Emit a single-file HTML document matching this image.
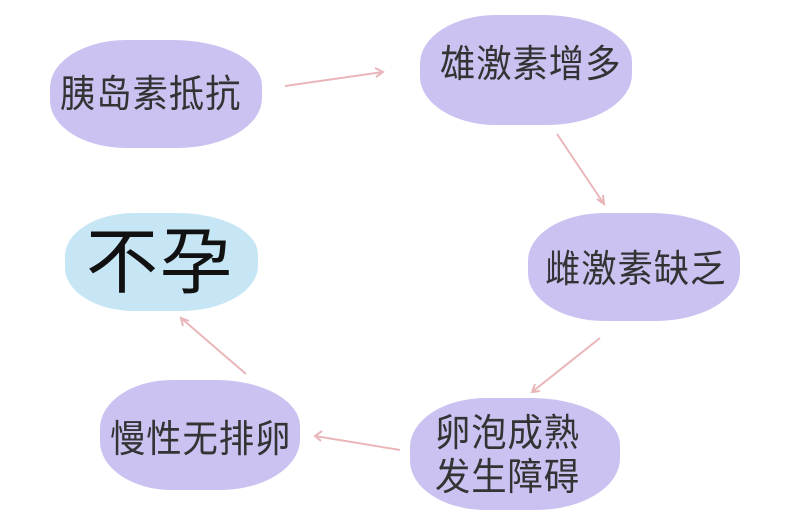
<!DOCTYPE html>
<html><head><meta charset="utf-8"><style>
body{margin:0;width:787px;height:517px;background:#fff;position:relative;overflow:hidden;font-family:"Liberation Sans","Noto Sans CJK SC",sans-serif}
.b{position:absolute;background:#cbc2f2;border-radius:36% 42% 40% 36%/44% 42% 46% 44%}
.t{position:absolute;color:#333;font-size:38px;white-space:nowrap;transform:scaleX(0.93);transform-origin:left top;line-height:1.15;letter-spacing:1px}
svg{position:absolute;left:0;top:0}
</style></head><body>
<div class="b" style="left:50px;top:40px;width:212px;height:108px"></div>
<div class="b" style="left:420px;top:15px;width:212px;height:110px"></div>
<div class="b" style="left:528px;top:213px;width:212px;height:108px"></div>
<div class="b" style="left:410px;top:398px;width:210px;height:112px"></div>
<div class="b" style="left:100px;top:380px;width:200px;height:110px"></div>
<div class="b" style="left:65px;top:213px;width:193px;height:98px;background:#c6e6f6"></div>
<div class="t" style="left:60px;top:74px">胰岛素抵抗</div>
<div class="t" style="left:440px;top:44px">雄激素增多</div>
<div class="t" style="left:545px;top:249px">雌激素缺乏</div>
<div class="t" style="left:435px;top:413px">卵泡成熟<br>发生障碍</div>
<div class="t" style="left:110px;top:419px">慢性无排卵</div>
<div class="t" style="left:86px;top:222px;font-size:72px;color:#111;transform:none;letter-spacing:2px">不孕</div>
<svg width="787" height="517" fill="none" stroke="#e9b6b9" stroke-width="2">
<path d="M285 86L383 72M375 68L383 72L376 77"/>
<path d="M557 134L604 204M603 195L604 204L597 199"/>
<path d="M600 338L532 392M535 384L532 392L540 391"/>
<path d="M400 450L315 436M322 431L315 436L321 441"/>
<path d="M246 374L181 318M183 326L181 318L189 321"/>
</svg>
</body></html>
